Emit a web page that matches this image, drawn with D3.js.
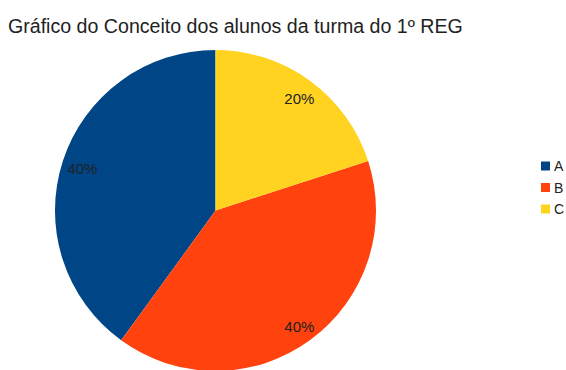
<!DOCTYPE html>
<html>
<head>
<meta charset="utf-8">
<script src="https://cdn.jsdelivr.net/npm/d3@7"></script>
<style>
  html, body { margin: 0; padding: 0; background: #fff; }
  svg { display: block; font-family: "Liberation Sans", Arial, sans-serif; }
</style>
</head>
<body>
<svg id="chart" width="566" height="370"></svg>
<script>
// Conceitos da turma e seus percentuais
const categories = ["A", "B", "C"];
const values = [40, 40, 20];
const colors = ["#004586", "#ff420e", "#ffd320"];
const title = "Gráfico do Conceito dos alunos da turma do 1º REG";

const svg = d3.select("#chart");
const cx = 215.5, cy = 210.5, radius = 160.5;

svg.append("text")
  .attr("x", 8)
  .attr("y", 33)
  .attr("font-size", 19.6)
  .attr("fill", "#222")
  .text(title);

const data = categories.map((c, i) => ({ cat: c, value: values[i], color: colors[i] }));

// Slices run counter-clockwise from twelve o'clock
const pie = d3.pie().value(d => d.value).sort(null)
  .startAngle(0).endAngle(-2 * Math.PI);
const arc = d3.arc().innerRadius(0).outerRadius(radius);
const labelArc = d3.arc().innerRadius(141).outerRadius(141);

const g = svg.append("g").attr("transform", `translate(${cx},${cy})`);
const arcs = pie(data);

g.selectAll("path").data(arcs).join("path")
  .attr("d", arc)
  .attr("fill", d => d.data.color);

const total = d3.sum(values);
g.selectAll("text.lbl").data(arcs).join("text")
  .attr("class", "lbl")
  .attr("transform", d => {
    const [x, y] = labelArc.centroid(d);
    return `translate(${x + 1},${y + 2})`;
  })
  .attr("text-anchor", "middle")
  .attr("dominant-baseline", "central")
  .attr("font-size", 15)
  .attr("fill", "#222")
  .text(d => Math.round(d.data.value / total * 100) + "%");

// Legend
const legend = svg.append("g").attr("transform", "translate(541,166)");
const rows = legend.selectAll("g").data(data).join("g")
  .attr("transform", (d, i) => `translate(0,${i * 21.5})`);
rows.append("rect")
  .attr("x", 0).attr("y", -4.5)
  .attr("width", 9).attr("height", 9)
  .attr("fill", d => d.color);
rows.append("text")
  .attr("x", 13).attr("y", 0)
  .attr("dominant-baseline", "central")
  .attr("font-size", 14)
  .attr("fill", "#222")
  .text(d => d.cat);
</script>
</body>
</html>
